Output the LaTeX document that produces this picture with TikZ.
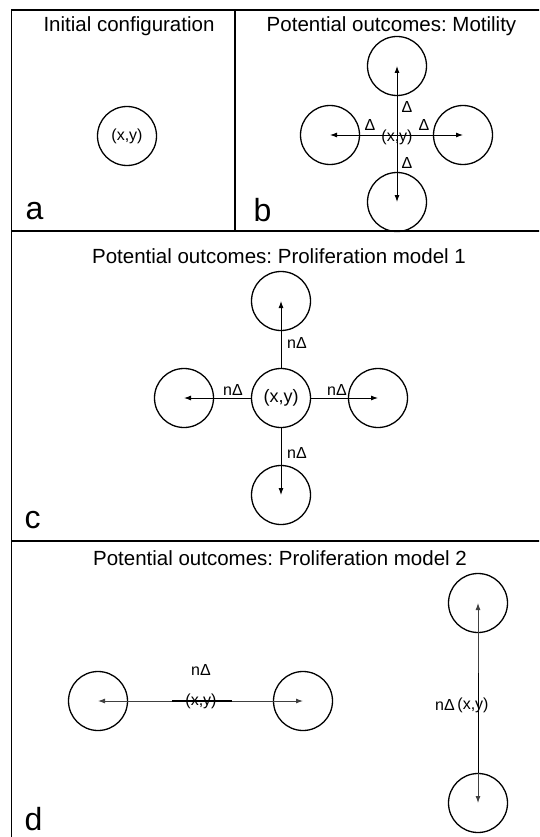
\documentclass[tikz,border=0pt]{standalone}
\usepackage{fontspec}
\setmainfont{Liberation Sans}
\frenchspacing
\usetikzlibrary{arrows.meta}
\begin{document}
\begin{tikzpicture}[x=1pt,y=-1pt,
  frame/.style={line width=1.4pt},
  cell/.style={circle,draw,line width=1.3pt,minimum size=59pt,inner sep=0pt,font=\fontsize{16}{18}\selectfont},
  arr/.style={line width=0.9pt,-{Latex[length=7pt,width=5pt]}},
  darr/.style={line width=0.9pt,{Latex[length=7pt,width=5pt]}-{Latex[length=7pt,width=5pt]}},
  ttl/.style={font=\fontsize{20.5}{24}\selectfont,anchor=base,inner sep=0pt},
  plab/.style={font=\fontsize{32}{36}\selectfont,anchor=base west,inner sep=0pt},
  lab/.style={font=\fontsize{16}{18}\selectfont,inner sep=0pt},
  faint/.style={draw=black!75,fill=black!75},
  heavy/.style={line width=1.1pt},
]
\useasboundingbox (0,0) rectangle (539,837);
\clip (0,0) rectangle (539,837);
% frame
\draw[frame] (11.5,845) -- (11.5,10) -- (545,10);
\draw[frame] (11.5,231) -- (545,231);
\draw[frame] (11.5,541) -- (545,541);
\draw[frame] (235,10) -- (235,231);
% titles
\node[ttl] (ta) at (129,32) {Initial configuration};
\node[ttl] (tb) at (391.5,32) {Potential outcomes: Motility};
\node[ttl] (tc) at (279,263) {Potential outcomes: Proliferation model 1};
\node[ttl] (td) at (280,565) {Potential outcomes: Proliferation model 2};
% panel letters
\node[plab] (la) at (25.5,219) {a};
\node[plab] (lb) at (253.5,221) {b};
\node[plab] (lc) at (24.5,528) {c};
\node[plab] (ld) at (24.5,830) {d};
% panel a
\node[cell] (a0) at (127,136) {(x,y)};
% panel b
\node[lab] (bxy) at (397,137) {(x,y)};
\node[cell] (bt) at (397,66) {};
\node[cell] (bb) at (397,202) {};
\node[cell] (bl) at (330,135) {};
\node[cell] (br) at (463,135) {};
\draw[darr] (bl.center) -- (br.center);
\draw[darr] (bt.center) -- (bb.center);
\node[lab] (bdt) at (407,107) {Δ};
\node[lab] (bdl) at (370,125) {Δ};
\node[lab] (bdr) at (424,125) {Δ};
\node[lab] (bdb) at (407,163) {Δ};
% panel c
\node[cell,font=\fontsize{18}{20}\selectfont] (c0) at (281,398) {(x,y)};
\node[cell] (ct) at (281,301) {};
\node[cell] (cb) at (281,495) {};
\node[cell] (cl) at (184,398) {};
\node[cell] (cr) at (378,398) {};
\draw[arr] (c0) -- (ct.center);
\draw[arr] (c0) -- (cb.center);
\draw[arr] (c0) -- (cl.center);
\draw[arr] (c0) -- (cr.center);
\node[lab] (cnt) at (297,343) {nΔ};
\node[lab] (cnl) at (233,390) {nΔ};
\node[lab] (cnr) at (337,390) {nΔ};
\node[lab] (cnb) at (297,453) {nΔ};
% panel d, horizontal
\node[cell] (dl) at (98,701) {};
\node[cell] (dr) at (303,701) {};
\draw[darr,faint] (dl.center) -- (dr.center);
\coordinate (dh1) at (172,701);
\coordinate (dh2) at (232,701);
\draw[heavy] (dh1) -- (dh2);
\node[lab] (dxy) at (201,701) {(x,y)};
\node[lab] (dn) at (201,670) {nΔ};
% panel d, vertical
\node[cell] (dt) at (478,603) {};
\node[cell] (dbm) at (478,803) {};
\draw[darr,faint] (dt.center) -- (dbm.center);
\coordinate (dv1) at (478,673);
\coordinate (dv2) at (478,773);
\draw[line width=0.9pt] (dv1) -- (dv2);
\node[lab] (dn2) at (445,705) {nΔ};
\node[lab] (dxy2) at (473,705) {(x,y)};
\end{tikzpicture}
\end{document}
